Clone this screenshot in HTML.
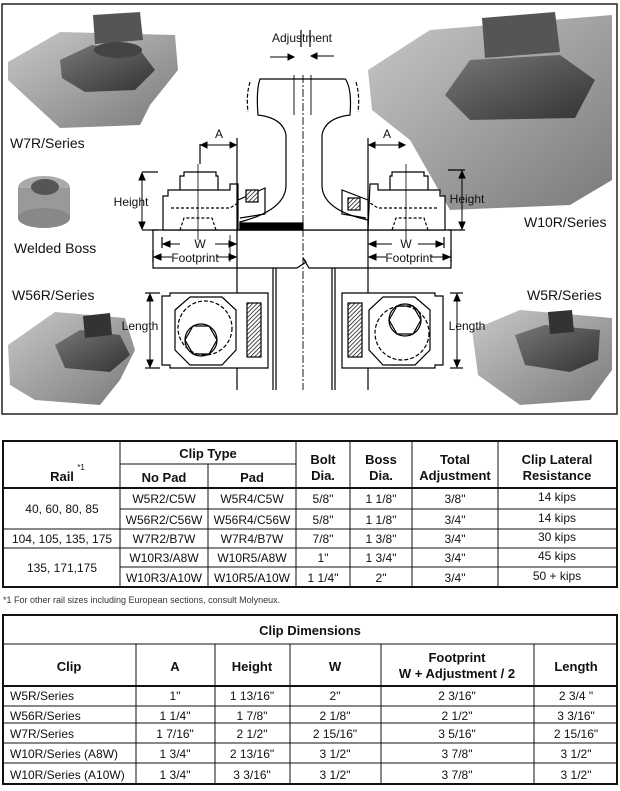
<!DOCTYPE html>
<html><head><meta charset="utf-8"><style>
body{margin:0;background:#fff;width:620px;height:791px;overflow:hidden;font-family:"Liberation Sans",sans-serif}
svg{position:absolute;left:0;top:0}
</style></head><body>
<svg width="620" height="791" viewBox="0 0 620 791" font-family="Liberation Sans, sans-serif">
<defs>
<pattern id="h" width="3" height="3" patternUnits="userSpaceOnUse" patternTransform="rotate(45)"><rect width="3" height="3" fill="#fff"/><line x1="0" y1="0" x2="0" y2="3" stroke="#000" stroke-width="1.4"/></pattern>
<linearGradient id="m" x1="0" y1="0" x2="1" y2="1"><stop offset="0" stop-color="#c8c8c8"/><stop offset="1" stop-color="#7a7a7a"/></linearGradient>
<linearGradient id="d" x1="0" y1="0" x2="1" y2="1"><stop offset="0" stop-color="#777"/><stop offset="1" stop-color="#333"/></linearGradient>
</defs>
<rect x="2" y="4" width="615" height="410" fill="none" stroke="#222" stroke-width="1.5"/>

<!-- W7R photo -->
<polygon points="8,62 60,32 175,35 178,70 150,105 140,125 60,128 35,105 8,80" fill="url(#m)"/>
<polygon points="60,60 92,45 140,50 155,70 135,90 85,92 62,78" fill="url(#d)"/>
<polygon points="93,15 140,12 143,40 95,44" fill="#555"/>
<ellipse cx="118" cy="50" rx="24" ry="8" fill="#444"/>
<!-- boss -->
<ellipse cx="44" cy="188" rx="26" ry="12" fill="#aaa"/>
<rect x="18" y="188" width="52" height="30" fill="#999"/>
<ellipse cx="44" cy="218" rx="26" ry="10" fill="#888"/>
<ellipse cx="45" cy="187" rx="14" ry="8" fill="#555"/>
<!-- W56R -->
<polygon points="8,345 55,312 125,318 135,350 120,380 100,405 35,400 10,385" fill="url(#m)"/>
<polygon points="55,345 80,330 120,335 130,355 110,372 65,368" fill="url(#d)"/>
<polygon points="83,316 110,313 112,335 85,338" fill="#333"/>
<!-- W10R -->
<polygon points="368,70 430,30 612,15 612,180 570,205 450,210 410,140 372,110" fill="url(#m)"/>
<polygon points="445,95 470,60 560,55 595,80 575,118 470,120" fill="url(#d)"/>
<polygon points="482,18 555,12 560,52 485,58" fill="#555"/>
<!-- W5R -->
<polygon points="472,330 520,310 612,318 612,370 590,400 520,405 478,375" fill="url(#m)"/>
<polygon points="515,335 545,325 600,330 598,360 570,372 525,365" fill="url(#d)"/>
<polygon points="548,312 572,310 574,332 550,334" fill="#333"/>

<g font-size="14" fill="#111">
<text x="10" y="148">W7R/Series</text>
<text x="14" y="253">Welded  Boss</text>
<text x="12" y="300">W56R/Series</text>
<text x="524" y="227">W10R/Series</text>
<text x="527" y="300">W5R/Series</text>
</g>

<g stroke="#000" stroke-width="1.2" fill="none">
<!-- base plate -->
<path d="M153,230 H451 V268 H309 L303,258 L306,262 L297,268 H153 Z" fill="#fff"/>
<!-- rail -->
<path d="M260,79 H345 L346,80 Q352,90 350,115 Q325,118 322,135 V185 Q322,210 368,220 V230 H240 V222 Q286,210 286,185 V135 Q283,118 258,115 Q256,90 260,79 Z" fill="#fff"/>
<path d="M250,82 Q246,95 248,112 M356,82 Q360,95 358,112" stroke-dasharray="4,2"/>
<line x1="303" y1="75" x2="303" y2="390" stroke-dasharray="8,2,2,2" stroke-width="0.9"/>
<line x1="294" y1="75" x2="294" y2="115" stroke-width="0.9"/>
<line x1="311" y1="75" x2="311" y2="115" stroke-width="0.9"/>
<rect x="240" y="223" width="63" height="7" fill="#000"/>
<!-- left clip -->
<path d="M163,230 V196 H168 V190 H230 V184 H238 L238,230 Z" fill="#fff"/>
<path d="M180,190 V176 H184 V172 H216 V176 H218 V190"/>
<path d="M198,164 V240" stroke-width="0.8"/>
<path d="M171,208 H230 L238,203 M180,230 L184,218 H212 L216,230" stroke-dasharray="3,2"/>
<path d="M238,200 L265,188 V214 L240,218"/>
<rect x="246" y="190" width="12" height="12" fill="url(#h)"/>
<!-- right clip -->
<path d="M445,230 V196 H440 V190 H378 V184 H370 L368,230 Z" fill="#fff"/>
<path d="M428,190 V176 H424 V172 H392 V176 H390 V190"/>
<path d="M406,164 V240" stroke-width="0.8"/>
<path d="M437,208 H378 L370,203 M428,230 L424,218 H396 L392,230" stroke-dasharray="3,2"/>
<path d="M368,200 L342,190 V214 L366,218"/>
<rect x="348" y="198" width="12" height="12" fill="url(#h)"/>
<!-- verticals -->
<line x1="237" y1="138" x2="237" y2="390"/>
<line x1="368" y1="138" x2="368" y2="390"/>
<line x1="273" y1="268" x2="273" y2="390"/><line x1="276" y1="268" x2="276" y2="390"/>
<line x1="332" y1="268" x2="332" y2="390"/><line x1="335" y1="268" x2="335" y2="390"/>
<!-- plan left -->
<path d="M162,296 H170 V293 H268 V368 H170 V365 H162 Z" fill="#fff"/>
<path d="M175,310 L190,297 H222 L236,310 V350 L222,365 H190 L175,350 Z"/>
<circle cx="205" cy="328" r="27" stroke-dasharray="4,2"/>
<polygon points="185,340 193,326 209,326 217,340 209,354 193,354"/>
<circle cx="201" cy="340" r="16"/>
<rect x="247" y="303" width="14" height="54" fill="url(#h)"/>
<!-- plan right -->
<path d="M443,296 H435 V293 H342 V368 H435 V365 H443 Z" fill="#fff"/>
<path d="M430,310 L415,297 H383 L369,310 V350 L383,365 H415 L430,350 Z"/>
<circle cx="402" cy="333" r="27" stroke-dasharray="4,2"/>
<polygon points="389,320 397,306 413,306 421,320 413,334 397,334"/>
<circle cx="405" cy="320" r="16"/>
<rect x="348" y="303" width="14" height="54" fill="url(#h)"/>
<!-- dims -->
<line x1="200" y1="144" x2="200" y2="164"/>
<line x1="230" y1="235" x2="230" y2="262" stroke-width="0.8"/>
<line x1="162" y1="237" x2="162" y2="248"/>
<line x1="153" y1="250" x2="153" y2="262"/>
<line x1="444" y1="237" x2="444" y2="248"/>
<line x1="451" y1="250" x2="451" y2="262"/>
<line x1="142" y1="172" x2="158" y2="172"/><line x1="142" y1="230" x2="158" y2="230"/>
<line x1="448" y1="170" x2="465" y2="170"/><line x1="448" y1="230" x2="465" y2="230"/>
<line x1="145" y1="293" x2="160" y2="293"/><line x1="145" y1="368" x2="160" y2="368"/>
<line x1="450" y1="293" x2="463" y2="293"/><line x1="450" y1="368" x2="463" y2="368"/>
<line x1="301" y1="30" x2="301" y2="47"/><line x1="310" y1="30" x2="310" y2="47"/>
</g>
<g stroke="#000" stroke-width="1" fill="#000">
<line x1="270" y1="57" x2="294" y2="57"/><polygon points="294,57 288,54 288,60"/>
<line x1="311" y1="56" x2="334" y2="56"/><polygon points="311,56 317,53 317,59"/>
<line x1="201" y1="145" x2="236" y2="145"/><polygon points="201,145 207,142 207,148"/><polygon points="236,145 230,142 230,148"/>
<line x1="369" y1="145" x2="405" y2="145"/><polygon points="369,145 375,142 375,148"/><polygon points="405,145 399,142 399,148"/>
<line x1="142" y1="173" x2="142" y2="229"/><polygon points="142,173 139,180 145,180"/><polygon points="142,229 139,222 145,222"/>
<line x1="462" y1="171" x2="462" y2="229"/><polygon points="462,171 459,178 465,178"/><polygon points="462,229 459,222 465,222"/>
<line x1="150" y1="294" x2="150" y2="367"/><polygon points="150,294 147,301 153,301"/><polygon points="150,367 147,360 153,360"/>
<line x1="457" y1="294" x2="457" y2="367"/><polygon points="457,294 454,301 460,301"/><polygon points="457,367 454,360 460,360"/>
<line x1="163" y1="244" x2="180" y2="244"/><polygon points="163,244 170,241 170,247"/>
<line x1="215" y1="244" x2="236" y2="244"/><polygon points="236,244 229,241 229,247"/>
<line x1="369" y1="244" x2="392" y2="244"/><polygon points="369,244 376,241 376,247"/>
<line x1="418" y1="244" x2="443" y2="244"/><polygon points="443,244 436,241 436,247"/>
<polygon points="154,257 161,254 161,260"/><polygon points="236,257 229,254 229,260"/>
<polygon points="369,257 376,254 376,260"/><polygon points="450,257 443,254 443,260"/>
<line x1="154" y1="257" x2="172" y2="257"/><line x1="217" y1="257" x2="236" y2="257"/>
<line x1="369" y1="257" x2="386" y2="257"/><line x1="431" y1="257" x2="450" y2="257"/>
</g>
<g font-size="12" fill="#111" text-anchor="middle">
<text x="302" y="42">Adjustment</text>
<text x="219" y="138">A</text><text x="387" y="138">A</text>
<text x="131" y="206">Height</text><text x="467" y="203">Height</text>
<text x="200" y="248">W</text><text x="406" y="248">W</text>
<text x="195" y="262">Footprint</text><text x="409" y="262">Footprint</text>
<text x="140" y="330">Length</text><text x="467" y="330">Length</text>
</g>

<!-- table 1 -->
<g stroke="#111" fill="none">
<rect x="3" y="441" width="614" height="146" stroke-width="2"/>
<path d="M120,441 V587 M208,464 V587 M296,441 V587 M350,441 V587 M412,441 V587 M498,441 V587" stroke-width="1"/>
<path d="M120,464 H296" stroke-width="1"/>
<path d="M3,488 H617" stroke-width="2"/>
<path d="M120,509 H617 M3,529 H617 M3,548 H617 M120,567 H617" stroke-width="1"/>
</g>
<g font-size="13" font-weight="bold" fill="#111" text-anchor="middle">
<text x="62" y="481">Rail</text><text x="81" y="470" font-size="8" font-weight="normal">*1</text>
<text x="208" y="458">Clip Type</text>
<text x="164" y="482">No Pad</text><text x="252" y="482">Pad</text>
<text x="323" y="464">Bolt</text><text x="323" y="480">Dia.</text>
<text x="381" y="464">Boss</text><text x="381" y="480">Dia.</text>
<text x="455" y="464">Total</text><text x="455" y="480">Adjustment</text>
<text x="557" y="464">Clip Lateral</text><text x="557" y="480">Resistance</text>
</g>
<g font-size="12" fill="#111" text-anchor="middle">
<text x="62" y="513">40, 60, 80, 85</text>
<text x="62" y="543">104, 105, 135, 175</text>
<text x="62" y="572">135, 171,175</text>
<text x="164" y="503">W5R2/C5W</text><text x="252" y="503">W5R4/C5W</text><text x="323" y="503">5/8"</text><text x="381" y="503">1 1/8"</text><text x="455" y="503">3/8"</text><text x="557" y="501">14 kips</text>
<text x="164" y="524">W56R2/C56W</text><text x="252" y="524">W56R4/C56W</text><text x="323" y="524">5/8"</text><text x="381" y="524">1 1/8"</text><text x="455" y="524">3/4"</text><text x="557" y="522">14 kips</text>
<text x="164" y="543">W7R2/B7W</text><text x="252" y="543">W7R4/B7W</text><text x="323" y="543">7/8"</text><text x="381" y="543">1 3/8"</text><text x="455" y="543">3/4"</text><text x="557" y="541">30 kips</text>
<text x="164" y="562">W10R3/A8W</text><text x="252" y="562">W10R5/A8W</text><text x="323" y="562">1"</text><text x="381" y="562">1 3/4"</text><text x="455" y="562">3/4"</text><text x="557" y="560">45 kips</text>
<text x="164" y="582">W10R3/A10W</text><text x="252" y="582">W10R5/A10W</text><text x="323" y="582">1 1/4"</text><text x="381" y="582">2"</text><text x="455" y="582">3/4"</text><text x="557" y="580">50 + kips</text>
</g>
<text x="3" y="603" font-size="9" fill="#333">*1  For other rail sizes including European sections, consult Molyneux.</text>

<!-- table 2 -->
<g stroke="#111" fill="none">
<rect x="3" y="615" width="614" height="169" stroke-width="2"/>
<path d="M3,644 H617" stroke-width="1"/>
<path d="M3,686 H617" stroke-width="2"/>
<path d="M3,706 H617 M3,723 H617 M3,743 H617 M3,763 H617" stroke-width="1"/>
<path d="M136,644 V784 M215,644 V784 M290,644 V784 M381,644 V784 M534,644 V784" stroke-width="1"/>
</g>
<g font-size="13" font-weight="bold" fill="#111" text-anchor="middle">
<text x="310" y="635">Clip Dimensions</text>
<text x="69" y="671">Clip</text><text x="175" y="671">A</text><text x="252" y="671">Height</text><text x="335" y="671">W</text>
<text x="457" y="662">Footprint</text><text x="457" y="678">W + Adjustment / 2</text>
<text x="576" y="671">Length</text>
</g>
<g font-size="12" fill="#111">
<text x="10" y="700">W5R/Series</text><text x="10" y="720">W56R/Series</text><text x="10" y="738">W7R/Series</text><text x="10" y="758">W10R/Series (A8W)</text><text x="10" y="779">W10R/Series (A10W)</text>
</g>
<g font-size="12" fill="#111" text-anchor="middle">
<text x="175" y="700">1"</text><text x="252" y="700">1 13/16"</text><text x="335" y="700">2"</text><text x="457" y="700">2 3/16"</text><text x="576" y="700">2 3/4 "</text>
<text x="175" y="720">1 1/4"</text><text x="252" y="720">1 7/8"</text><text x="335" y="720">2 1/8"</text><text x="457" y="720">2 1/2"</text><text x="576" y="720">3 3/16"</text>
<text x="175" y="738">1 7/16"</text><text x="252" y="738">2 1/2"</text><text x="335" y="738">2 15/16"</text><text x="457" y="738">3 5/16"</text><text x="576" y="738">2 15/16"</text>
<text x="175" y="758">1 3/4"</text><text x="252" y="758">2 13/16"</text><text x="335" y="758">3 1/2"</text><text x="457" y="758">3 7/8"</text><text x="576" y="758">3 1/2"</text>
<text x="175" y="779">1 3/4"</text><text x="252" y="779">3 3/16"</text><text x="335" y="779">3 1/2"</text><text x="457" y="779">3 7/8"</text><text x="576" y="779">3 1/2"</text>
</g>
</svg>
</body></html>
